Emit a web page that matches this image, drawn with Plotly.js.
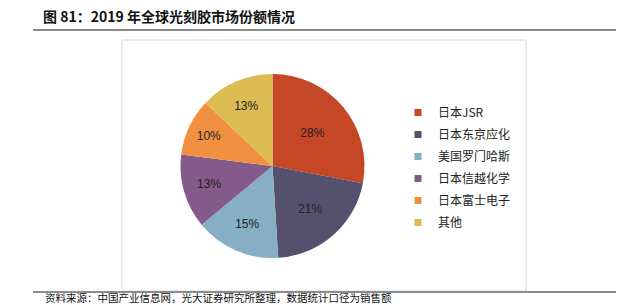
<!DOCTYPE html>
<html>
<head>
<meta charset="utf-8">
<script src="https://cdn.plot.ly/plotly-3.0.1.min.js"></script>
<style>html,body{margin:0;padding:0;background:#fff;}#chart{width:628px;height:305px;}</style>
</head>
<body>
<div id="chart"></div>
<script>
const categories = ['日本JSR', '日本东京应化', '美国罗门哈斯', '日本信越化学', '日本富士电子', '其他'];
const shares = [28, 21, 15, 13, 10, 13];
const colors = ['#C64726', '#56506F', '#86AEC4', '#835A8A', '#F09040', '#DBBB52'];
const titleText = '图 81：2019 年全球光刻胶市场份额情况';
const sourceText = '资料来源：中国产业信息网，光大证券研究所整理，数据统计口径为销售额';

const W = 628, H = 305;
const px = v => v / W;
const py = v => (H - v) / H;

const cx = 272.5, cy = 166, r = 92;

const pie = {
  type: 'pie',
  labels: categories,
  values: shares,
  text: shares.map(v => v + '%'),
  textinfo: 'text',
  textposition: 'inside',
  insidetextorientation: 'horizontal',
  sort: false,
  direction: 'clockwise',
  rotation: 0,
  marker: {colors: colors, line: {width: 0}},
  textfont: {family: 'Liberation Sans, Arial, sans-serif', size: 12, color: '#222'},
  domain: {x: [px(cx - r), px(cx + r)], y: [py(cy + r), py(cy - r)]},
  showlegend: false,
  hoverinfo: 'label+percent'
};

const legendTraces = categories.map((c, i) => ({
  type: 'scatter',
  mode: 'markers',
  x: [null], y: [null],
  name: c,
  legendgroup: 'g' + i,
  marker: {symbol: 'square', size: 7, color: colors[i]},
  showlegend: true,
  hoverinfo: 'skip'
}));

const layout = {
  width: W, height: H,
  margin: {l: 0, r: 0, t: 0, b: 0},
  paper_bgcolor: '#fff',
  plot_bgcolor: '#fff',
  xaxis: {visible: false, range: [0, 1]},
  yaxis: {visible: false, range: [0, 1]},
  title: {
    text: titleText,
    x: px(43), xanchor: 'left', xref: 'paper',
    y: py(17), yanchor: 'middle', yref: 'paper',
    font: {family: 'Noto Sans CJK SC, sans-serif', size: 14, color: '#111', weight: 'bold'}
  },
  legend: {
    x: px(398), xanchor: 'left',
    y: py(98), yanchor: 'top',
    tracegroupgap: 3,
    bgcolor: 'rgba(0,0,0,0)',
    font: {family: 'Noto Sans CJK SC, sans-serif', size: 12, color: '#222'}
  },
  shapes: [
    {type: 'rect', xref: 'paper', yref: 'paper', x0: px(122), x1: px(526), y0: py(291), y1: py(40),
     line: {color: '#d9d9d9', width: 1}, fillcolor: 'rgba(0,0,0,0)', layer: 'below'},
    {type: 'line', xref: 'paper', yref: 'paper', x0: px(33), x1: px(616), y0: py(30), y1: py(30),
     line: {color: '#8c8c8c', width: 2}},
    {type: 'line', xref: 'paper', yref: 'paper', x0: px(33), x1: px(616), y0: py(292), y1: py(292),
     line: {color: '#8c8c8c', width: 2}}
  ],
  annotations: [
    {text: sourceText, xref: 'paper', yref: 'paper', x: px(43), y: py(297.5), xanchor: 'left', yanchor: 'middle',
     showarrow: false, font: {family: 'Noto Sans CJK SC, sans-serif', size: 10.5, color: '#111'}}
  ]
};

Plotly.newPlot('chart', [pie].concat(legendTraces), layout, {displayModeBar: false, staticPlot: true});
</script>
</body>
</html>
